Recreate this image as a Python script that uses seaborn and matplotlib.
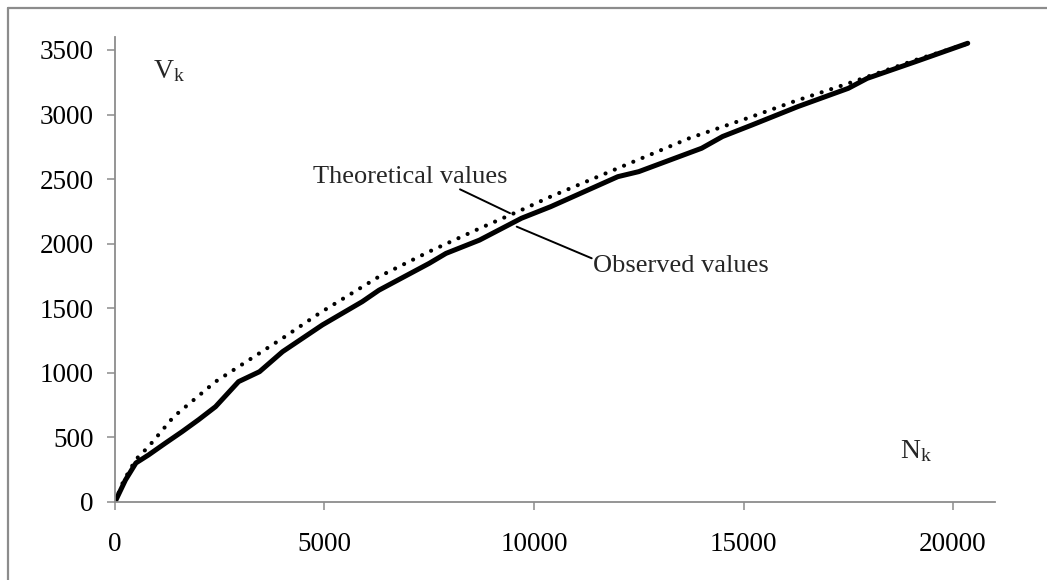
import numpy as np
import pandas as pd
import matplotlib.pyplot as plt
import matplotlib.lines as mlines
import seaborn as sns

# values
theo_n = [0, 200, 500, 800, 1400, 2400, 3200, 4000, 4900, 6300, 7500, 8700,
          9700, 10400, 12000, 13700, 15200, 16200, 17500, 19100, 20350]
theo_v = [0, 160, 330, 428, 660, 932, 1100, 1268, 1466, 1745, 1939, 2118,
          2261, 2365, 2584, 2816, 2984, 3101, 3241, 3422, 3550]

obs_n = [0, 250, 500, 800, 1200, 1600, 2000, 2400, 2950, 3450, 4000, 4950,
         5900, 6300, 7500, 7900, 8700, 9700, 10400, 12000, 12500, 14000,
         14500, 15200, 16300, 17500, 17950, 19100, 20350]
obs_v = [0, 170, 302, 364, 455, 544, 638, 738, 932, 1009, 1164, 1371,
         1551, 1640, 1848, 1925, 2028, 2197, 2287, 2519, 2558, 2739,
         2830, 2919, 3062, 3203, 3280, 3409, 3552]

x_ticks = [0, 5000, 10000, 15000, 20000]
y_ticks = [0, 500, 1000, 1500, 2000, 2500, 3000, 3500]

theo = pd.DataFrame({'N': theo_n, 'V': theo_v})
obs = pd.DataFrame({'N': obs_n, 'V': obs_v})

sns.set_style("white")
plt.rcParams['font.family'] = ['Liberation Serif', 'DejaVu Serif']
plt.rcParams['mathtext.fontset'] = 'custom'
plt.rcParams['mathtext.rm'] = 'Liberation Serif'
plt.rcParams['mathtext.it'] = 'Liberation Serif'

fig = plt.figure(figsize=(10.47, 5.8), dpi=100)
ax = fig.add_axes([0.1098, 0.1345, 0.8405, 0.8016])

sns.lineplot(data=theo, x='N', y='V', ax=ax, color='black', linewidth=3.0,
             linestyle=(0, (0.01, 2.4)), dash_capstyle='round', sort=False)
sns.lineplot(data=obs, x='N', y='V', ax=ax, color='black', linewidth=3.6,
             solid_capstyle='round', solid_joinstyle='round', sort=False)

ax.set_xlim(0, 21000)
ax.set_ylim(0, 3600)
ax.set_xticks(x_ticks)
ax.set_yticks(y_ticks)
ax.set_xlabel('')
ax.set_ylabel('')

grey = '#8c8c8c'
for s in ['top', 'right']:
    ax.spines[s].set_visible(False)
for s in ['left', 'bottom']:
    ax.spines[s].set_color(grey)
    ax.spines[s].set_linewidth(1.3)
ax.tick_params(axis='both', direction='out', length=5.5, width=1.1, color=grey,
               labelsize=19.5, labelcolor='black')
ax.tick_params(axis='x', pad=16, bottom=True)
ax.tick_params(axis='y', pad=10, left=True)

ax.text(907, 3283, r'$\mathrm{V_k}$', fontsize=20)
ax.text(18735, 341, r'$\mathrm{N_k}$', fontsize=20)

ax.text(4726, 2470, 'Theoretical values', fontsize=19)
ax.plot([8234, 9427], [2421, 2236], color='black', linewidth=1.4)
ax.text(11408, 1783, 'Observed values', fontsize=19)
ax.plot([9587, 11377], [2132, 1887], color='black', linewidth=1.4)

# outer chart frame (only left and top show)
fig.add_artist(mlines.Line2D([8 / 1047, 8 / 1047], [0, 1 - 8 / 580],
                             color=grey, linewidth=1.6))
fig.add_artist(mlines.Line2D([8 / 1047, 1], [1 - 8 / 580, 1 - 8 / 580],
                             color=grey, linewidth=1.6))

fig.savefig('out.png', dpi=100)
